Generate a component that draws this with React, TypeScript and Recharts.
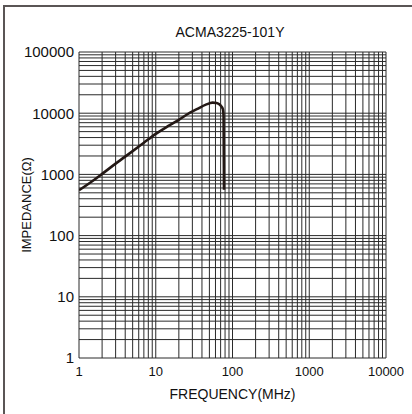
import React from 'react';
import { LineChart, Line, XAxis, YAxis, ReferenceLine, Label } from 'recharts';

const freqMHz = [1, 1.5, 2, 3, 4, 5, 7, 10, 15, 20, 28, 35, 45, 55, 62, 68, 72, 75, 76.5, 77.5];
const impedanceOhm = [550, 780, 1020, 1500, 1950, 2400, 3300, 4600, 6300, 7800, 10200, 11800, 13800, 14900, 14700, 13900, 12800, 11600, 9000, 560];
const xTicks = [1, 10, 100, 1000, 10000];
const yTicks = [1, 10, 100, 1000, 10000, 100000];
const mantissas = [1, 2, 3, 4, 5, 6, 7, 8, 9];

const xGrid: number[] = [];
[1, 10, 100, 1000].forEach((d) => mantissas.forEach((m) => xGrid.push(m * d)));
xGrid.push(10000);
const yGrid: number[] = [];
[1, 10, 100, 1000, 10000].forEach((d) => mantissas.forEach((m) => yGrid.push(m * d)));
yGrid.push(100000);

const data = freqMHz.map((f, i) => ({ f, z: impedanceOhm[i] }));

const FONT = '"Liberation Sans", Arial, Helvetica, sans-serif';
const GRID = '#2a2a2a';

export default function App() {
  return (
    <div style={{ position: 'relative', width: 412, height: 414, overflow: 'hidden', background: '#fff', fontFamily: FONT }}>
      <style>{`body{margin:0;overflow:hidden;}`}</style>
      <div style={{ position: 'absolute', left: 3, top: 5, width: 420, height: 420, borderTop: '2px solid #5a5555', borderLeft: '2px solid #5a5555' }} />
      <div style={{ position: 'absolute', left: 130, width: 200, top: 24, textAlign: 'center', fontSize: 14, color: '#111' }}>ACMA3225-101Y</div>
      <div style={{ position: 'absolute', left: 0, top: 0 }}>
        <LineChart width={412} height={414} data={data} margin={{ top: 52, right: 26, bottom: 0, left: 0 }}>
          <XAxis
            dataKey="f"
            type="number"
            scale="log"
            domain={[1, 10000]}
            ticks={xTicks}
            allowDataOverflow
            axisLine={false}
            tickLine={false}
            tickSize={0}
            tickMargin={9}
            height={56}
            tick={{ fontSize: 13, fill: '#111', fontFamily: FONT }}
          >
            <Label
              content={({ viewBox }: any) => (
                <text x={viewBox.x + viewBox.width / 2} y={399} textAnchor="middle" fontSize={14} fill="#111" fontFamily={FONT}>
                  FREQUENCY(MHz)
                </text>
              )}
            />
          </XAxis>
          <YAxis
            type="number"
            scale="log"
            domain={[1, 100000]}
            ticks={yTicks}
            allowDataOverflow
            axisLine={false}
            tickLine={false}
            tickSize={0}
            tickMargin={5}
            width={79}
            tick={{ fontSize: 15, fill: '#111', fontFamily: FONT }}
          >
            <Label
              content={({ viewBox }: any) => {
                const cx = 31;
                const cy = viewBox.y + viewBox.height / 2;
                return (
                  <text x={cx} y={cy} transform={`rotate(-90, ${cx}, ${cy})`} textAnchor="middle" fontSize={13} fill="#111" fontFamily={FONT}>
                    IMPEDANCE(Ω)
                  </text>
                );
              }}
            />
          </YAxis>
          {xGrid.map((v) => (
            <ReferenceLine key={'x' + v} x={v} stroke={GRID} strokeWidth={1} ifOverflow="extendDomain" />
          ))}
          {yGrid.map((v) => (
            <ReferenceLine key={'y' + v} y={v} stroke={GRID} strokeWidth={1} ifOverflow="extendDomain" />
          ))}
          <Line dataKey="z" type="monotone" stroke="#231815" strokeWidth={2.6} dot={false} isAnimationActive={false} />
        </LineChart>
      </div>
    </div>
  );
}
